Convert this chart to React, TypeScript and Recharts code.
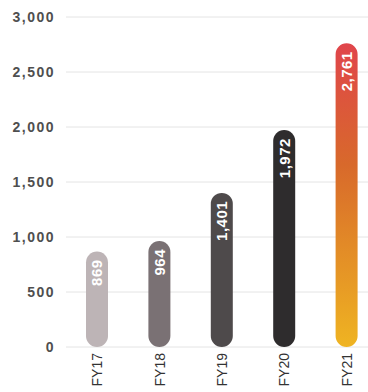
import { BarChart, Bar, XAxis, YAxis, CartesianGrid, Cell, LabelList } from "recharts";

const years = ["FY17", "FY18", "FY19", "FY20", "FY21"];
const values = [869, 964, 1401, 1972, 2761];
const yTicks = [0, 500, 1000, 1500, 2000, 2500, 3000];
const barColors = ["#bdb4b6", "#7a7174", "#4e4a4b", "#2e2c2d", "url(#fy21Grad)"];

const data = years.map((year, i) => ({ year, value: values[i] }));

const fmt = (v: number) => v.toLocaleString("en-US");

function YearTick({ x, y, payload }: any) {
  const ty = y - 2;
  return (
    <text
      x={x}
      y={ty}
      transform={`rotate(-90, ${x}, ${ty})`}
      textAnchor="end"
      dominantBaseline="central"
      fill="#333"
      fontSize={14}
      fontFamily="'Liberation Sans', Arial, sans-serif"
    >
      {payload.value}
    </text>
  );
}

function ValueLabel({ x, y, width, value }: any) {
  const cx = x + width / 2;
  const ty = y + 8;
  return (
    <text
      x={cx}
      y={ty}
      transform={`rotate(-90, ${cx}, ${ty})`}
      textAnchor="end"
      dominantBaseline="central"
      fill="#fff"
      fontSize={15}
      fontWeight="bold"
      letterSpacing={0.5}
      fontFamily="'Liberation Sans', Arial, sans-serif"
    >
      {fmt(value)}
    </text>
  );
}

export default function App() {
  return (
    <div style={{ position: "fixed", top: 0, left: 0, width: 368, height: 392, overflow: "hidden", background: "#fff" }}>
      <BarChart width={380} height={392} data={data} margin={{ top: 17, right: 2, left: 0, bottom: 0 }}>
        <defs>
          <linearGradient id="fy21Grad" x1="0" y1="0" x2="0" y2="1">
            <stop offset="0%" stopColor="#e0454b" />
            <stop offset="40%" stopColor="#d8692b" />
            <stop offset="100%" stopColor="#efb422" />
          </linearGradient>
        </defs>
        <CartesianGrid vertical={false} stroke="#e4e4e4" />
        <XAxis dataKey="year" axisLine={false} tickLine={false} height={45} tick={<YearTick />} interval={0} />
        <YAxis
          width={66}
          domain={[0, 3000]}
          ticks={yTicks}
          axisLine={false}
          tickLine={false}
          tickMargin={5}
          tickFormatter={fmt}
          tick={{ fill: "#4f4f4f", fontSize: 14, fontWeight: "bold", letterSpacing: 1.5, fontFamily: "'Liberation Sans', Arial, sans-serif" }}
        />
        <Bar dataKey="value" barSize={22} radius={11} isAnimationActive={false}>
          {data.map((d, i) => (
            <Cell key={d.year} fill={barColors[i]} />
          ))}
          <LabelList dataKey="value" content={<ValueLabel />} />
        </Bar>
      </BarChart>
    </div>
  );
}
